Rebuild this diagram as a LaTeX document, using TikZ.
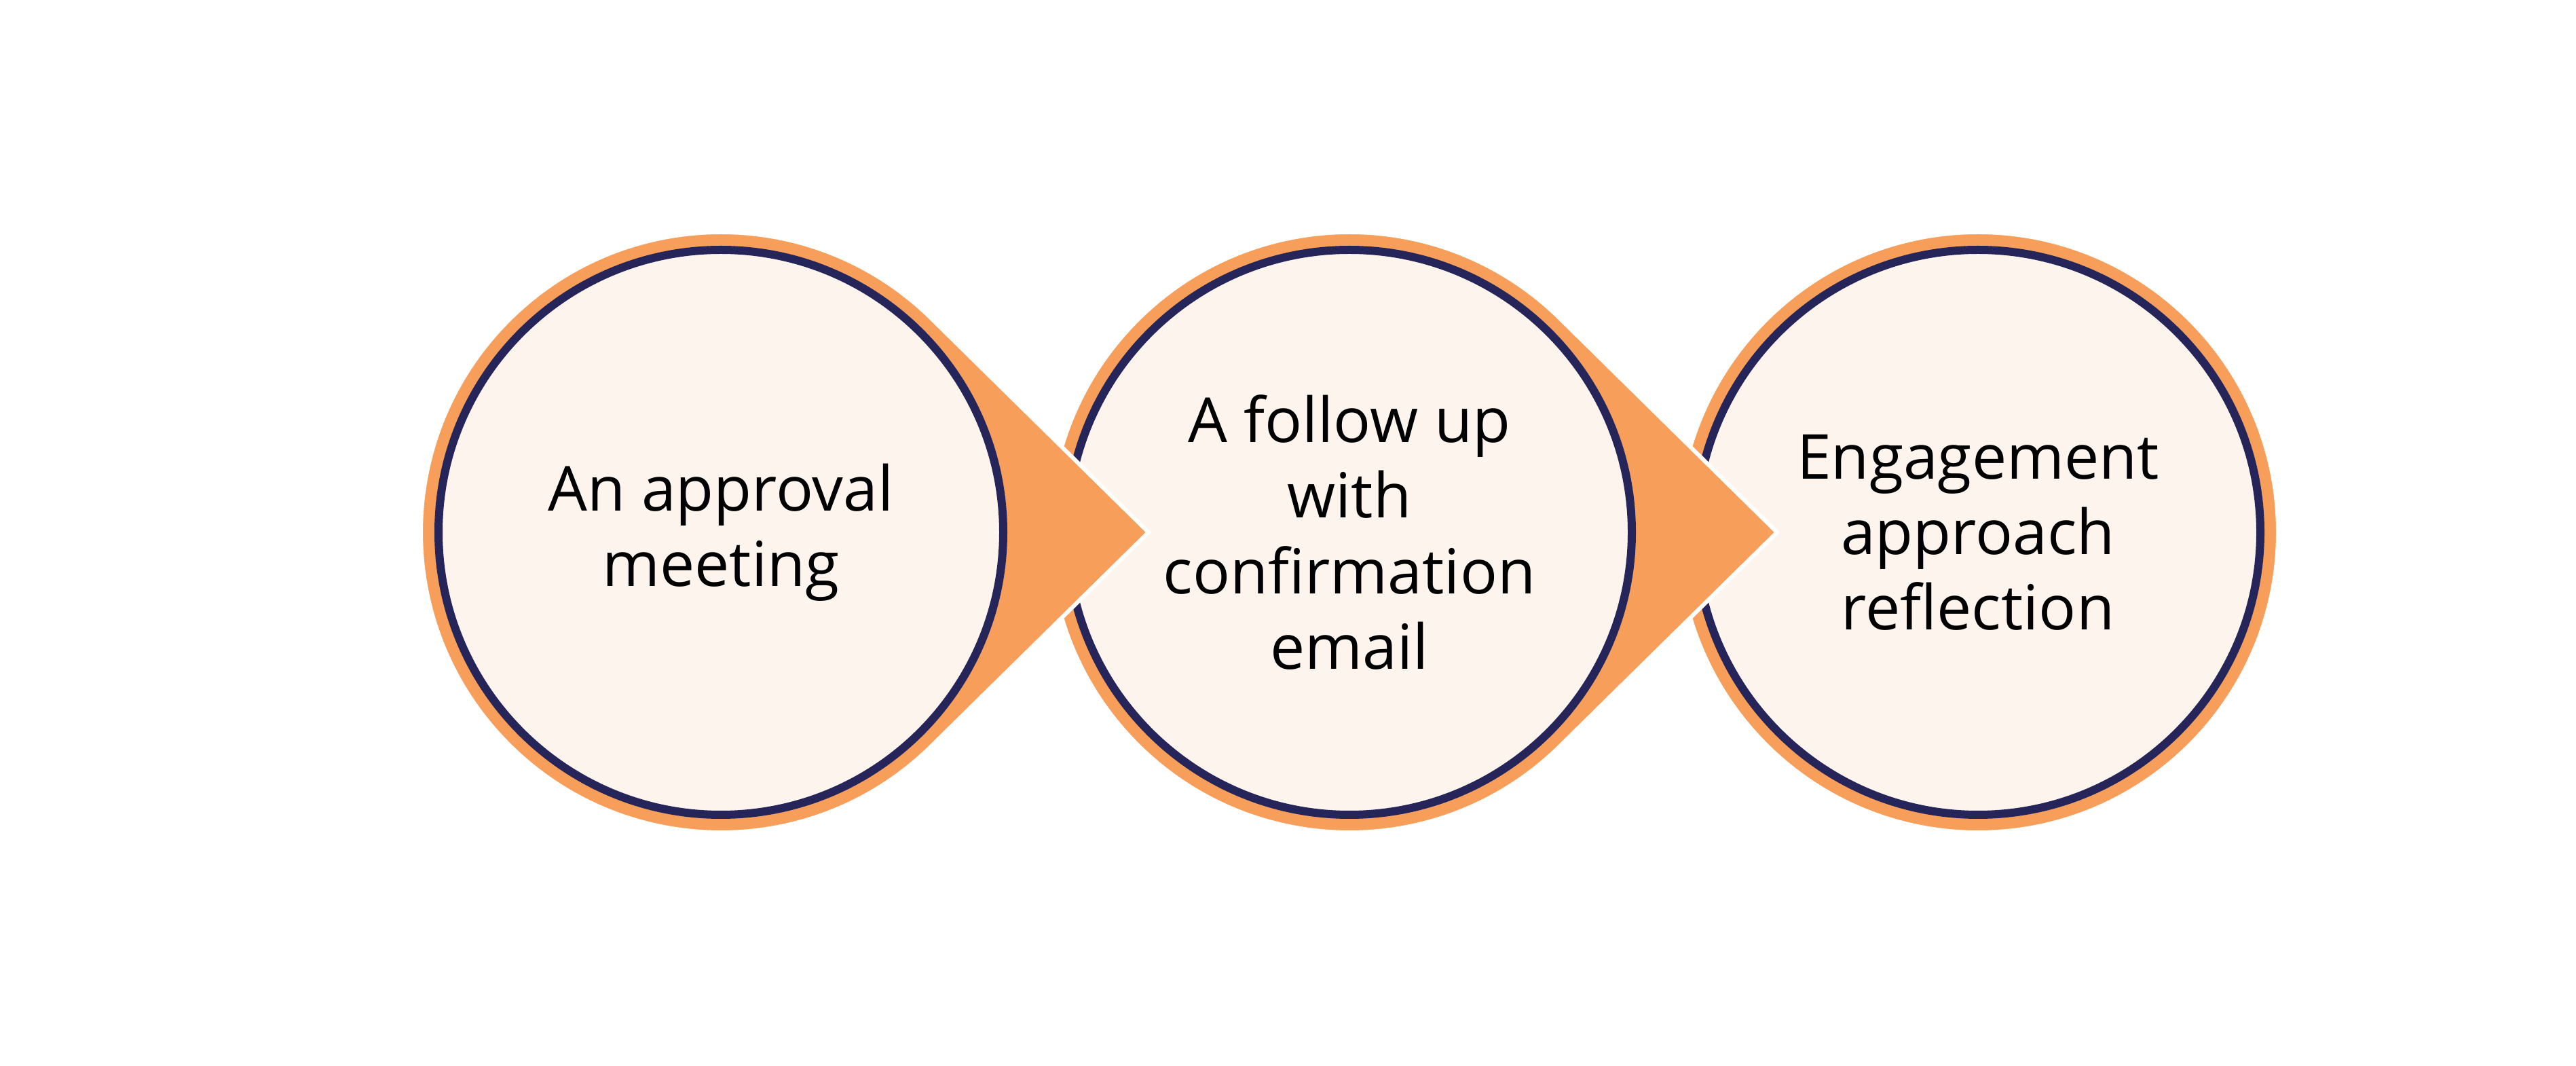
\documentclass[tikz,border=0pt]{standalone}
\usepackage{fontspec}
\setmainfont{Open Sans}
\usepackage{xcolor}
\usetikzlibrary{calc}
\definecolor{ringorange}{HTML}{F79E5B}
\definecolor{ringnavy}{HTML}{25255A}
\definecolor{stagecream}{HTML}{FDF4EE}

\begin{document}
\begin{tikzpicture}[
  tear/.style={fill=ringorange,draw=white,line width=0.6mm,line join=miter},
  stage/.style={circle,draw=ringnavy,fill=stagecream,line width=1.2mm,minimum size=8.32cm,
    inner sep=0pt,align=center,font=\fontsize{26}{31.6}\selectfont}]
\useasboundingbox (0,0) rectangle (37.95,15.70);
\coordinate (c1) at (10.62,7.86);
\coordinate (c2) at (19.88,7.86);
\coordinate (c3) at (29.14,7.86);
% last stage first, so each arrow lies over the next circle
\path[tear] (c3) circle[radius=4.42];
\node[stage] (s3) at (c3) {Engagement\\approach\\reflection};
\path[tear] ($(c2)+(45:4.42)$) arc[start angle=45,end angle=315,radius=4.42]
  -- ($(c2)+(6.30,0)$) -- cycle;
\node[stage] (s2) at (c2) {A follow up\\with\\confirmation\\email};
\path[tear] ($(c1)+(45:4.42)$) arc[start angle=45,end angle=315,radius=4.42]
  -- ($(c1)+(6.30,0)$) -- cycle;
\node[stage] (s1) at (c1) {An approval\\meeting};
\end{tikzpicture}
\end{document}
